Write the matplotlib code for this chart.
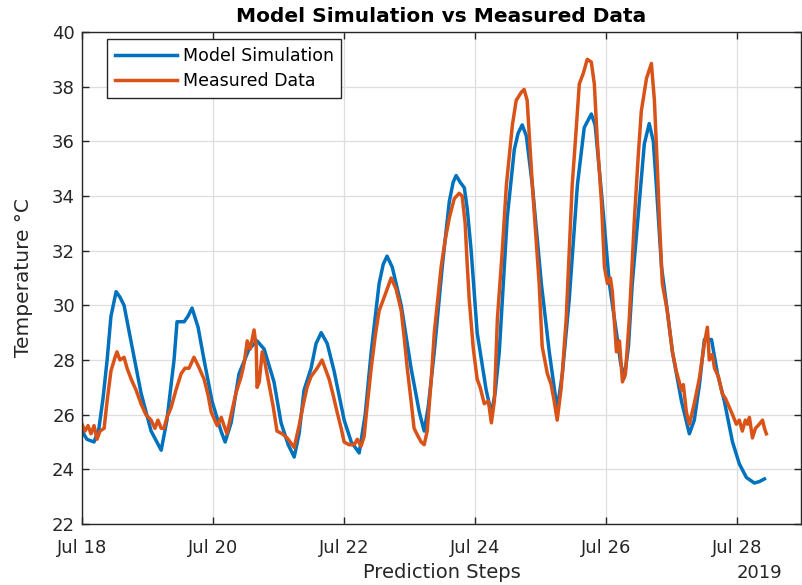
import matplotlib
matplotlib.use("Agg")
import matplotlib.pyplot as plt
import matplotlib.dates as mdates
import pandas as pd

# hours after Jul 18 2019 00:00, values in degC
model_hours = [
    0, 1.8, 4.4, 6.2, 7.7, 9.2, 10.6, 12.5, 13.9, 15.4,
    18.3, 21.6, 25.3, 29.0, 31.1, 33.7, 34.8, 37.4, 38.8, 40.3,
    42.5, 44.7, 47.6, 50.9, 52.4, 54.6, 57.5, 61.2, 64.1, 66.7,
    70.3, 72.9, 75.5, 77.7, 79.5, 81.3, 83.9, 85.7, 87.6, 89.8,
    92.3, 96.0, 98.6, 101.5, 103.7, 105.9, 108.8, 110.3, 111.7, 113.6,
    116.9, 120.5, 123.5, 125.3, 126.8, 129.0, 131.9, 134.5, 135.9, 137.0,
    138.5, 140.0, 141.1, 142.5, 144.7, 148.0, 149.9, 151.3, 152.8, 155.7,
    158.3, 159.7, 161.2, 162.7, 164.9, 168.2, 171.1, 174.0, 175.9, 178.4,
    181.4, 183.9, 186.5, 187.9, 190.5, 193.1, 195.7, 197.2, 198.6, 200.1,
    201.5, 204.1, 205.9, 207.7, 209.2, 210.3, 212.2, 214.0, 216.2, 219.5,
    222.4, 224.2, 226.1, 227.9, 230.5, 232.7, 235.2, 238.2, 240.7, 243.3,
    246.2, 248.0, 249.9,
]
model_temp = [
    25.4, 25.1, 25.0, 25.5, 26.6, 28.0, 29.6, 30.5, 30.3, 30.0,
    28.5, 26.8, 25.4, 24.7, 25.8, 28.0, 29.4, 29.4, 29.6, 29.9,
    29.2, 28.0, 26.5, 25.4, 25.0, 25.7, 27.5, 28.4, 28.7, 28.4,
    27.2, 25.7, 24.9, 24.45, 25.3, 26.9, 27.7, 28.6, 29.0, 28.6,
    27.6, 25.8, 25.0, 24.6, 26.0, 28.3, 30.8, 31.5, 31.8, 31.4,
    30.0, 27.7, 26.1, 25.4, 26.3, 28.3, 31.4, 33.8, 34.5, 34.75,
    34.5, 34.3, 33.5, 32.0, 29.0, 26.9, 26.05, 26.8, 28.3, 33.2,
    35.7, 36.3, 36.6, 36.2, 34.4, 30.8, 28.3, 26.2, 27.5, 30.2,
    34.4, 36.5, 37.0, 36.6, 33.8, 30.8, 29.0, 27.9, 27.35, 28.5,
    30.8, 33.8, 35.9, 36.65, 36.0, 34.4, 31.4, 30.05, 28.3, 26.5,
    25.3, 25.8, 27.1, 28.75, 28.75, 27.5, 26.5, 25.0, 24.2, 23.7,
    23.5, 23.55, 23.65,
]

measured_hours = [
    0, 1.1, 2.2, 3.3, 4.4, 5.5, 6.6, 8.1, 9.2, 10.6,
    12.1, 12.8, 13.9, 15.4, 16.5, 18.0, 19.8, 21.6, 23.4, 25.3,
    26.7, 27.8, 29.0, 30.0, 31.1, 32.6, 34.4, 36.3, 37.7, 39.2,
    41.0, 42.5, 44.7, 46.2, 47.3, 49.5, 51.0, 52.0, 53.1, 54.6,
    56.4, 58.3, 59.4, 60.5, 61.6, 63.0, 63.8, 64.1, 64.9, 66.0,
    67.0, 68.5, 70.0, 71.4, 73.3, 75.1, 76.2, 77.7, 79.5, 81.3,
    82.4, 83.9, 86.1, 87.9, 89.4, 90.5, 92.0, 93.4, 94.9, 96.0,
    97.8, 99.7, 100.8, 102.2, 103.3, 104.4, 105.9, 107.4, 108.8, 111.4,
    113.2, 115.0, 116.9, 118.0, 119.1, 120.5, 121.6, 123.1, 124.2, 125.3,
    126.4, 127.9, 129.0, 131.5, 133.0, 134.5, 136.3, 138.1, 139.2, 140.3,
    141.0, 141.8, 143.3, 144.7, 145.8, 147.3, 148.8, 149.9, 151.0, 152.1,
    153.9, 155.4, 157.6, 159.0, 160.9, 161.9, 163.0, 164.9, 167.4, 168.5,
    170.4, 171.8, 172.9, 174.0, 175.5, 177.3, 179.5, 181.0, 182.1, 183.6,
    185.0, 186.5, 187.6, 188.7, 190.2, 191.3, 192.4, 193.5, 194.2, 195.7,
    196.8, 197.9, 199.0, 200.4, 202.3, 203.7, 204.8, 206.7, 207.7, 208.5,
    209.6, 210.7, 211.4, 212.5, 214.3, 216.2, 217.6, 219.5, 220.2, 221.3,
    222.4, 223.5, 224.6, 226.1, 227.9, 229.0, 229.7, 230.8, 231.6, 233.0,
    234.5, 235.6, 237.1, 238.2, 239.6, 240.7, 241.8, 242.9, 243.7, 244.4,
    245.5, 246.6, 248.0, 249.2, 249.9, 250.6,
]
measured_temp = [
    25.65, 25.4, 25.6, 25.3, 25.6, 25.1, 25.4, 25.5, 26.5, 27.6,
    28.1, 28.3, 28.0, 28.1, 27.7, 27.3, 26.9, 26.4, 26.0, 25.8,
    25.5, 25.8, 25.5, 25.5, 25.9, 26.25, 26.9, 27.5, 27.7, 27.7,
    28.1, 27.8, 27.3, 26.7, 26.1, 25.6, 25.9, 25.6, 25.3, 26.0,
    26.8, 27.4, 27.9, 28.7, 28.4, 29.1, 28.5, 27.0, 27.2, 28.3,
    27.9, 27.1, 26.3, 25.4, 25.3, 25.15, 25.0, 24.8, 25.6, 26.5,
    27.0, 27.4, 27.7, 28.0, 27.6, 27.3, 26.7, 26.1, 25.5, 25.0,
    24.9, 24.9, 25.1, 24.85, 25.2, 26.3, 27.7, 28.9, 29.8, 30.5,
    31.0, 30.6, 29.8, 28.8, 27.7, 26.5, 25.5, 25.2, 25.0, 24.9,
    25.4, 27.3, 29.0, 31.4, 32.4, 33.2, 33.9, 34.1, 34.0, 33.0,
    31.6, 30.2, 28.4, 27.3, 27.0, 26.4, 26.5, 25.7, 26.5, 29.5,
    32.0, 34.4, 36.6, 37.5, 37.8, 37.9, 37.5, 34.4, 30.8, 28.5,
    27.5, 27.1, 26.5, 25.8, 27.0, 29.5, 34.4, 36.5, 38.1, 38.5,
    39.0, 38.9, 38.1, 36.0, 33.8, 31.4, 30.8, 31.0, 30.5, 28.3,
    28.7, 27.2, 27.5, 29.5, 33.2, 35.5, 37.1, 38.3, 38.6, 38.85,
    37.5, 35.0, 33.2, 30.8, 29.8, 28.3, 27.6, 26.9, 27.1, 26.1,
    25.65, 26.1, 26.6, 27.35, 28.6, 29.2, 28.0, 28.2, 27.7, 27.4,
    26.75, 26.6, 26.25, 26.0, 25.65, 25.8, 25.4, 25.8, 25.65, 25.9,
    25.15, 25.5, 25.65, 25.8, 25.5, 25.3,
]

y_ticks = list(range(22, 41, 2))
tick_days = ["2019-07-18", "2019-07-20", "2019-07-22", "2019-07-24", "2019-07-26", "2019-07-28"]

start = pd.Timestamp("2019-07-18")
t_model = start + pd.to_timedelta(model_hours, unit="h")
t_meas = start + pd.to_timedelta(measured_hours, unit="h")

plt.rcParams["font.family"] = "DejaVu Sans"

fig = plt.figure(figsize=(8.02, 5.85), dpi=100)
ax = fig.add_axes([82 / 802, 61 / 585, 719 / 802, 492 / 585])

ax.plot(t_model, model_temp, color="#0072BD", lw=2.5, label="Model Simulation")
ax.plot(t_meas, measured_temp, color="#D95319", lw=2.5, label="Measured Data")

ax.set_xlim(start, start + pd.Timedelta(days=10.97))
ax.set_ylim(22, 40)
ax.set_yticks(y_ticks)
ax.set_xticks(pd.to_datetime(tick_days))
ax.xaxis.set_major_formatter(mdates.DateFormatter("%b %d"))

ax.grid(True, color="#dedede", lw=0.9)
ax.set_axisbelow(True)
for s in ax.spines.values():
    s.set_color("#262626")
    s.set_linewidth(1.0)
ax.tick_params(direction="in", length=5, width=1, colors="#262626",
               labelsize=13, top=True, right=True)
ax.tick_params(axis="x", pad=11)
ax.tick_params(axis="y", pad=5)

ax.set_title("Model Simulation vs Measured Data", fontsize=14.5, fontweight="bold",
             color="black", pad=7)
ax.set_xlabel("Prediction Steps", fontsize=14, color="#262626", labelpad=4)
ax.set_ylabel("Temperature \u00b0C", fontsize=14.5, color="#262626", labelpad=14)
fig.text(782 / 802, 1 - 573 / 585, "2019", ha="right", va="center",
         fontsize=13, color="#262626")

leg = ax.legend(loc="upper left", bbox_to_anchor=(0.035, 0.985), fontsize=12.5,
                handlelength=3.6, handletextpad=0.3, borderaxespad=0,
                fancybox=False, framealpha=1, edgecolor="#262626",
                borderpad=0.45, labelspacing=0.4)
leg.get_frame().set_linewidth(1.0)

fig.savefig("out.png", dpi=100)
